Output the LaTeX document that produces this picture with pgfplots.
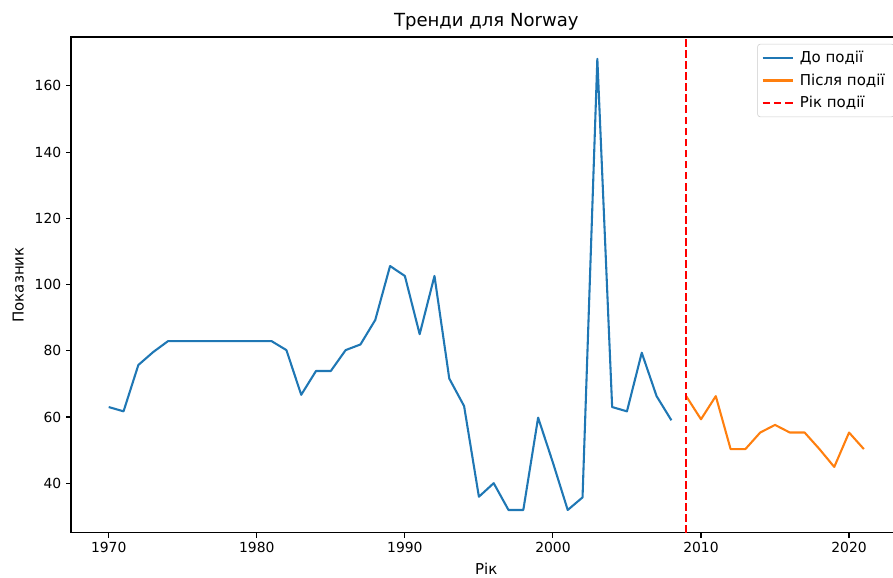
\documentclass[border=0pt]{standalone}
\usepackage{fontspec}
\setmainfont{DejaVu Sans}
\usepackage{pgfplots}
\pgfplotsset{compat=1.18}
\definecolor{mblue}{HTML}{1F77B4}
\definecolor{morange}{HTML}{FF7F0E}
\begin{document}
\begin{tikzpicture}
\begin{axis}[
  at={(0,0)}, anchor=south west,
  scale only axis, width=598pt, height=357pt,
  xmin=1967.45, xmax=2023.55, ymin=25.0, ymax=174.8,
  xtick={1970,1980,...,2020}, ytick={40,60,...,160},
  /pgf/number format/assume math mode=true,
  /pgf/number format/1000 sep={},
  tick align=outside, tick pos=left,
  major tick length=3.5pt,
  axis line style={line width=0.8pt},
  every tick/.style={line width=0.8pt, black},
  tick label style={font=\fontsize{10}{12}\selectfont},
  title={Тренди для Norway},
  title style={font=\fontsize{13}{15}\selectfont, yshift=-4.5pt},
  xlabel={Рік}, ylabel={Показник},
  label style={font=\fontsize{10.8}{13}\selectfont},
  xlabel style={yshift=-0.5pt},
  ylabel style={yshift=1pt},
  legend style={at={(1,1)}, anchor=north east, xshift=-5pt, yshift=-5pt,
    draw=black!20, rounded corners=2pt, fill=white, fill opacity=0.8, text opacity=1,
    font=\fontsize{10.8}{13}\selectfont, row sep=2.6pt, inner xsep=3pt, inner ysep=3pt,
    nodes={inner xsep=4pt}},
  legend cell align=left,
  legend image code/.code={\draw[#1] (0pt,0pt) -- (22pt,0pt);},
]
\addplot[mblue, line width=1.5pt, line join=round] coordinates {
(1970,63.0) (1971,61.7) (1972,75.7) (1973,79.6) (1974,82.9) (1975,82.9) (1976,82.9)
(1977,82.9) (1978,82.9) (1979,82.9) (1980,82.9) (1981,82.9) (1982,80.2) (1983,66.7)
(1984,73.9) (1985,73.9) (1986,80.2) (1987,81.9) (1988,89.3) (1989,105.6) (1990,102.6)
(1991,85.0) (1992,102.6) (1993,71.6) (1994,63.3) (1995,35.9) (1996,40.0) (1997,31.9)
(1998,31.9) (1999,59.8) (2000,46.2) (2001,31.9) (2002,35.7) (2003,168.2) (2004,63.0)
(2005,61.7) (2006,79.4) (2007,66.3) (2008,59.0)
};
\addlegendentry{До події}
\addplot[morange, line width=1.5pt, line join=round] coordinates {
(2009,66.3) (2010,59.3) (2011,66.3) (2012,50.3) (2013,50.3) (2014,55.3) (2015,57.6)
(2016,55.3) (2017,55.3) (2018,50.3) (2019,44.9) (2020,55.3) (2021,50.3)
};
\addlegendentry{Після події}
\addplot[red, line width=1.5pt, dash pattern=on 5.55pt off 2.4pt] coordinates {(2009,25.0) (2009,174.8)};
\addlegendentry{Рік події}
\end{axis}
\pgfresetboundingbox
\path[use as bounding box] (-51.1pt,-32.4pt) rectangle (591.8pt,383.6pt);
\end{tikzpicture}
\end{document}
